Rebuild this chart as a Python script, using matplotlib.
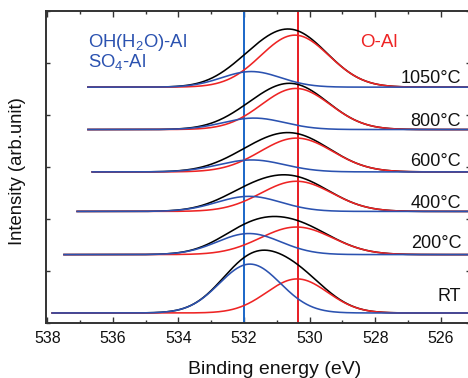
import numpy as np
import matplotlib
matplotlib.use("Agg")
import matplotlib.pyplot as plt
from matplotlib.ticker import MultipleLocator, FormatStrFormatter

plt.rcParams['font.family'] = ['Liberation Sans', 'DejaVu Sans']
plt.rcParams['mathtext.fontset'] = 'custom'
plt.rcParams['mathtext.rm'] = 'Liberation Sans'
plt.rcParams['mathtext.default'] = 'regular'

# O 1s spectra, stacked from bottom (RT) to top (1050 °C)
samples = ["RT", "200°C", "400°C", "600°C", "800°C", "1050°C"]
offsets = [0.187, 1.31, 2.14, 2.90, 3.715, 4.53]
scan_start = [537.85, 537.49, 537.09, 536.63, 536.76, 536.76]
scan_end = 525.0

# OH(H2O)-Al / SO4-Al component: centre (eV), height, FWHM (eV)
hyd_center = [531.82, 531.85, 531.85, 531.77, 531.70, 531.78]
hyd_height = [0.94, 0.405, 0.29, 0.23, 0.22, 0.30]
hyd_fwhm = [2.19, 2.28, 2.30, 2.35, 2.20, 2.12]

# O-Al component: centre (eV), height, FWHM (eV)
oal_center = [530.38, 530.40, 530.40, 530.40, 530.42, 530.45]
oal_height = [0.655, 0.53, 0.58, 0.65, 0.79, 1.00]
oal_fwhm = [2.19, 2.59, 2.55, 2.60, 2.47, 2.45]

# reference binding energies
hyd_line = 532.0
oal_line = 530.36

label_y = [0.417, 1.44, 2.205, 3.01, 3.78, 4.61]

BLACK = '#000000'
RED = '#ee2424'
BLUE = '#2b52b0'
VBLUE = '#1a66c8'
VRED = '#e81c24'
AXIS = '#333333'


def gauss(e, c, h, w):
    return h * np.exp(-4.0 * np.log(2.0) * (e - c) ** 2 / w ** 2)


fig = plt.figure(figsize=(4.68, 3.78), dpi=100)
ax = fig.add_axes([46.3 / 468, (378 - 322.7) / 378, (469.5 - 46.3) / 468, 312 / 378])

for i, name in enumerate(samples):
    e = np.arange(scan_start[i], scan_end, -0.02)
    hyd = gauss(e, hyd_center[i], hyd_height[i], hyd_fwhm[i])
    oal = gauss(e, oal_center[i], oal_height[i], oal_fwhm[i])
    base = offsets[i]
    ax.plot(e, base + hyd + oal, color=BLACK, lw=1.15, zorder=3)
    ax.plot(e, base + oal, color=RED, lw=1.15, zorder=4)
    ax.plot(e, base + hyd, color=BLUE, lw=1.15, zorder=5)
    ax.text(525.38, label_y[i], name, ha='right', va='baseline',
            fontsize=13, color='#111111', zorder=6)

ax.axvline(hyd_line, color=VBLUE, lw=1.4, zorder=2)
ax.axvline(oal_line, color=VRED, lw=1.4, zorder=2)

ax.text(536.76, 5.31, 'OH(H$_2$O)-Al', color=BLUE, fontsize=13.3,
        ha='left', va='baseline')
ax.text(536.76, 4.92, 'SO$_4$-Al', color=BLUE, fontsize=13.3,
        ha='left', va='baseline')
ax.text(528.46, 5.30, 'O-Al', color=RED, fontsize=13.5,
        ha='left', va='baseline')

ax.set_xlim(538.03, 525.125)
ax.set_ylim(0, 6)
ax.xaxis.set_major_locator(MultipleLocator(2))
ax.xaxis.set_minor_locator(MultipleLocator(1))
ax.xaxis.set_major_formatter(FormatStrFormatter('%d'))
ax.yaxis.set_major_locator(MultipleLocator(1))

for sp in ax.spines.values():
    sp.set_color(AXIS)
    sp.set_linewidth(1.4)

ax.tick_params(axis='x', which='both', direction='in', top=True, bottom=True,
               color=AXIS, width=1.0, labelsize=11.5, pad=6, labelcolor='#111111')
ax.tick_params(axis='x', which='major', length=4.3)
ax.tick_params(axis='x', which='minor', length=2.2)
ax.tick_params(axis='y', which='both', direction='in', left=True, right=True,
               color=AXIS, width=1.0, length=3.2, labelleft=False)

fig.text(275 / 468, 1 - 374.5 / 378, 'Binding energy (eV)', ha='center',
         va='baseline', fontsize=14, color='#111111')
fig.text(17.5 / 468, 1 - 171 / 378, 'Intensity (arb.unit)', rotation=90,
         ha='center', va='center', fontsize=13.3, color='#111111')

fig.savefig('out.png', dpi=100)
